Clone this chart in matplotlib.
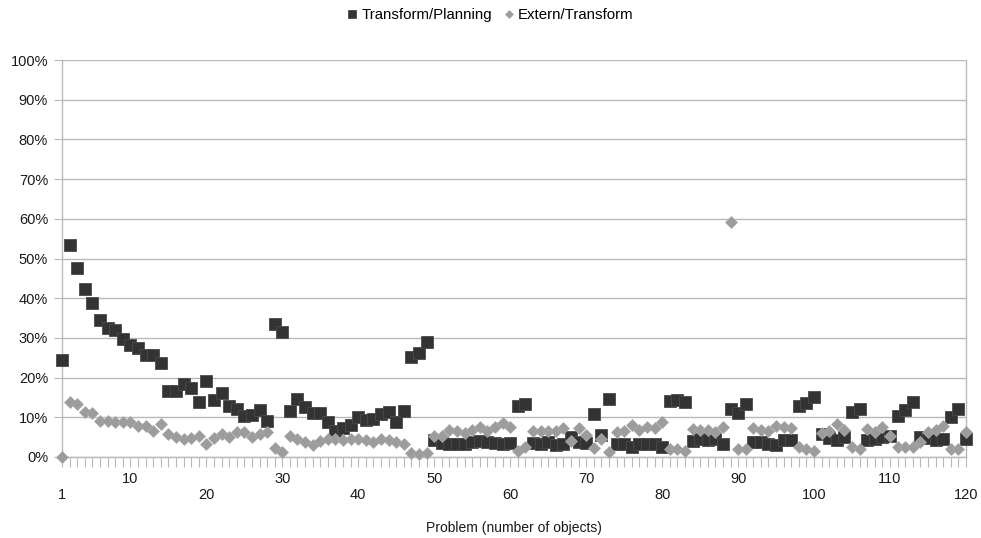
import matplotlib.pyplot as plt
from matplotlib.ticker import FixedLocator, FuncFormatter

# problem index 1..120
problems = list(range(1, 121))

# values in percent
transform_planning = [
    24.5, 53.3, 47.7, 42.2, 38.9, 34.5, 32.4, 32.0, 29.7, 28.2,
    27.4, 25.7, 25.7, 23.8, 16.6, 16.6, 18.4, 17.5, 13.9, 19.1,
    14.4, 16.0, 12.9, 12.1, 10.4, 10.6, 11.8, 9.1, 33.5, 31.4,
    11.7, 14.7, 12.5, 11.0, 11.0, 8.9, 6.6, 7.2, 8.1, 10.0,
    9.3, 9.6, 10.8, 11.4, 8.7, 11.7, 25.3, 26.1, 29.0, 4.3,
    3.6, 3.4, 3.4, 3.3, 3.9, 4.1, 3.9, 3.6, 3.3, 3.6,
    12.8, 13.3, 3.6, 3.3, 3.9, 3.0, 3.3, 5.0, 3.9, 3.6,
    10.8, 5.5, 14.6, 3.3, 3.4, 2.6, 3.3, 3.3, 3.3, 2.6,
    14.2, 14.4, 13.8, 4.1, 4.5, 4.3, 4.5, 3.4, 12.0, 11.2,
    13.3, 3.9, 3.9, 3.4, 3.0, 4.3, 4.3, 12.8, 13.5, 15.2,
    5.7, 4.7, 4.3, 5.0, 11.4, 12.0, 4.3, 4.5, 5.0, 5.4,
    10.3, 11.8, 13.9, 5.0, 4.8, 4.3, 4.5, 10.2, 12.0, 4.5,
]

extern_transform = [
    0.0, 13.9, 13.3, 11.4, 11.0, 9.1, 9.1, 8.9, 8.7, 8.7,
    7.8, 7.7, 6.5, 8.3, 5.7, 5.1, 4.5, 4.8, 5.4, 3.4,
    4.7, 5.8, 5.1, 6.2, 6.3, 5.1, 5.8, 6.2, 2.2, 1.3,
    5.3, 4.5, 3.9, 2.9, 4.0, 4.5, 4.6, 4.3, 4.6, 4.5,
    4.3, 3.9, 4.5, 4.3, 3.9, 3.4, 0.9, 0.8, 0.9, 5.2,
    5.2, 6.8, 6.6, 6.1, 6.8, 7.5, 6.6, 7.5, 8.6, 7.5,
    1.5, 2.4, 6.6, 6.6, 6.6, 6.6, 7.2, 4.0, 7.2, 5.5,
    2.2, 4.5, 1.2, 6.4, 6.6, 8.1, 6.7, 7.6, 7.2, 8.9,
    1.9, 2.1, 1.6, 7.0, 6.7, 6.9, 6.4, 7.5, 59.2, 1.9,
    2.1, 7.4, 6.7, 6.5, 7.8, 7.5, 7.2, 2.6, 1.9, 1.6,
    6.0, 6.5, 8.3, 6.7, 2.4, 1.9, 7.0, 6.4, 7.5, 5.3,
    2.6, 2.4, 2.4, 3.9, 6.4, 6.9, 7.8, 2.1, 2.1, 6.2,
]

x_labelled = [1, 10, 20, 30, 40, 50, 60, 70, 80, 90, 100, 110, 120]

plt.rcParams["font.family"] = ["Liberation Sans", "DejaVu Sans"]
grid_gray = "#b8b8b8"

fig = plt.figure(figsize=(9.81, 5.38), dpi=100)
ax = fig.add_axes([62 / 981, 1 - 457 / 538, (966 - 62) / 981, (457 - 60) / 538])

ax.plot(problems, transform_planning, linestyle="none", marker="s", markersize=8.4,
        color="#333333", markeredgecolor="#4a4a4a", markeredgewidth=0.6,
        clip_on=False, zorder=3, label="Transform/Planning")
ax.plot(problems, extern_transform, linestyle="none", marker="D", markersize=6.0,
        color="#9c9c9c", markeredgecolor="#a8a8a8", markeredgewidth=0.5,
        clip_on=False, zorder=4, label="Extern/Transform")

ax.set_xlim(1, 120)
ax.set_ylim(0, 100)

# y axis: gridlines every 10%
ax.yaxis.set_major_locator(FixedLocator(range(0, 101, 10)))
ax.yaxis.set_major_formatter(FuncFormatter(lambda v, _: f"{v:.0f}%"))
ax.yaxis.grid(True, color=grid_gray, linewidth=1.0, zorder=0)
ax.tick_params(axis="y", length=6, color=grid_gray, labelsize=10.5, pad=4,
               labelcolor="#1a1a1a")

# x axis: a tick on every problem, labels staggered on two rows
ax.xaxis.set_major_locator(FixedLocator(problems))
labels = []
for p in problems:
    if p not in x_labelled:
        labels.append("")
    elif x_labelled.index(p) % 2 == 0:
        labels.append("\n" + str(p))
    else:
        labels.append(str(p))
ax.set_xticklabels(labels)
ax.tick_params(axis="x", length=7, color=grid_gray, labelsize=10.5, pad=3.5,
               labelcolor="#1a1a1a")
ax.set_xlabel("Problem (number of objects)", fontsize=10, labelpad=14,
              color="#1a1a1a")

for side in ["left", "right", "bottom"]:
    ax.spines[side].set_color(grid_gray)
    ax.spines[side].set_linewidth(1.0)
ax.spines["top"].set_visible(False)
ax.set_axisbelow(True)

fig.legend(loc="center", bbox_to_anchor=(0.5, 1 - 15 / 538), ncol=2,
           frameon=False, fontsize=10.8, handlelength=0.6, handletextpad=0.3,
           columnspacing=0.8, markerscale=0.7)

fig.savefig("out.png", dpi=100)
